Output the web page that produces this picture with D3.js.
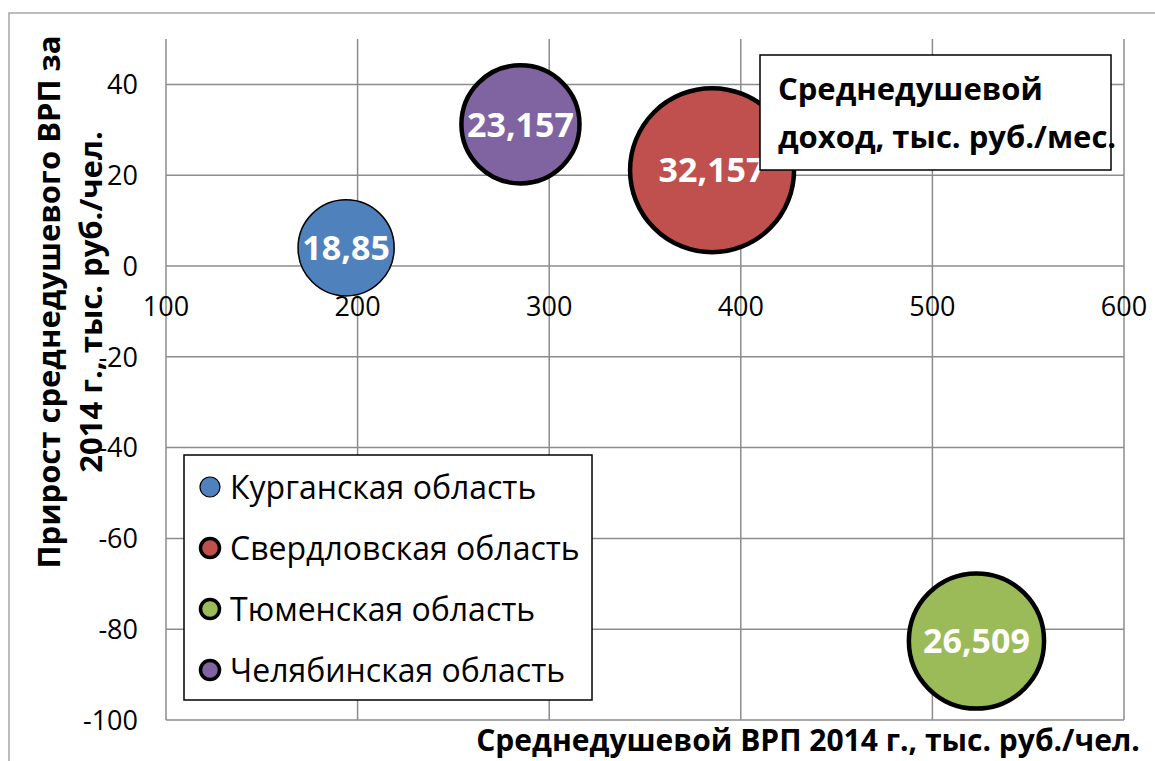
<!DOCTYPE html>
<html>
<head>
<meta charset="utf-8">
<script src="https://cdn.jsdelivr.net/npm/d3@7"></script>
<style>
  body { margin: 0; background: #fff; }
  text { font-family: "Open Sans", "Noto Sans", sans-serif; }
</style>
</head>
<body>
<div id="vis"></div>
<script>
// regions, ВРП per capita (x), growth (y), income (bubble size)
const regions = ["Курганская область", "Свердловская область", "Тюменская область", "Челябинская область"];
const grp = [194, 385, 523, 285];
const growth = [4.0, 21.1, -82.6, 31.2];
const income = [18.85, 32.157, 26.509, 23.157];
const incomeLabels = ["18,85", "32,157", "26,509", "23,157"];
const colors = ["#4F81BD", "#C0504D", "#9BBB59", "#8064A2"];

const xTicks = [100, 200, 300, 400, 500, 600];
const yTicks = [40, 20, 0, -20, -40, -60, -80, -100];

const width = 1155, height = 761;
const margin = {left: 166, right: 31, top: 39, bottom: 41};

const svg = d3.select('#vis').append('svg')
  .attr("width", width)
  .attr("height", height);

// outer chart border
svg.append("rect")
  .attr("x", 9).attr("y", 13)
  .attr("width", 1160).attr("height", 800)
  .attr("fill", "none")
  .attr("stroke", "#a6a6a6")
  .attr("stroke-width", 1.5);

const x = d3.scaleLinear().domain([100, 600]).range([margin.left, width - margin.right]);
const y = d3.scaleLinear().domain([-100, 50]).range([height - margin.bottom, margin.top]);
const r = d3.scaleLinear().domain([0, 32.157]).range([0, 82]);

const grid = svg.append("g").attr("stroke", "#8c8c8c").attr("stroke-width", 1.5);

grid.selectAll("line.v")
  .data(xTicks)
  .enter().append("line")
  .attr("x1", d => x(d)).attr("x2", d => x(d))
  .attr("y1", y(50)).attr("y2", y(-100));

grid.selectAll("line.h")
  .data(yTicks)
  .enter().append("line")
  .attr("x1", x(100)).attr("x2", x(600))
  .attr("y1", d => y(d)).attr("y2", d => y(d));

// tick labels
svg.selectAll("text.xt")
  .data(xTicks)
  .enter().append("text")
  .attr("x", d => x(d))
  .attr("y", y(0) + 50)
  .attr("text-anchor", "middle")
  .attr("font-size", 27)
  .attr("fill", "#000")
  .text(d => d);

svg.selectAll("text.yt")
  .data(yTicks)
  .enter().append("text")
  .attr("x", 138)
  .attr("y", d => y(d))
  .attr("dy", "0.36em")
  .attr("text-anchor", "end")
  .attr("font-size", 27)
  .attr("fill", "#000")
  .text(d => d);

// bubbles
const idx = d3.range(regions.length);
const bubbles = svg.selectAll("g.bubble")
  .data(idx)
  .enter().append("g");

bubbles.append("circle")
  .attr("cx", i => x(grp[i]))
  .attr("cy", i => y(growth[i]))
  .attr("r", i => r(income[i]))
  .attr("fill", i => colors[i])
  .attr("stroke", "#000")
  .attr("stroke-width", i => i === 0 ? 1.5 : 4.5);

bubbles.append("text")
  .attr("x", i => x(grp[i]))
  .attr("y", i => y(growth[i]))
  .attr("dy", "0.36em")
  .attr("text-anchor", "middle")
  .attr("font-size", 34)
  .attr("font-weight", "bold")
  .attr("fill", "#fff")
  .text(i => incomeLabels[i]);

// size title box
svg.append("rect")
  .attr("x", 760).attr("y", 55)
  .attr("width", 351).attr("height", 115)
  .attr("fill", "#fff")
  .attr("stroke", "#000")
  .attr("stroke-width", 1.5);

svg.append("text")
  .attr("x", 778).attr("y", 100)
  .attr("font-size", 31).attr("font-weight", "bold")
  .text("Среднедушевой");
svg.append("text")
  .attr("x", 778).attr("y", 148)
  .attr("font-size", 31).attr("font-weight", "bold")
  .text("доход, тыс. руб./мес.");

// legend
const legend = svg.append("g");
legend.append("rect")
  .attr("x", 184).attr("y", 455)
  .attr("width", 408).attr("height", 245)
  .attr("fill", "#fff")
  .attr("stroke", "#000")
  .attr("stroke-width", 1.5);

const rows = legend.selectAll("g.row")
  .data(idx)
  .enter().append("g")
  .attr("transform", i => `translate(0,${487 + i * 61})`);

rows.append("circle")
  .attr("cx", 210).attr("cy", 0)
  .attr("r", i => i === 0 ? 10 : 9.5)
  .attr("fill", i => colors[i])
  .attr("stroke", "#000")
  .attr("stroke-width", i => i === 0 ? 1.2 : 3.5);

rows.append("text")
  .attr("x", 230).attr("y", 0)
  .attr("dy", "0.36em")
  .attr("font-size", 32)
  .text(i => regions[i]);

// axis titles
svg.append("text")
  .attr("x", 808).attr("y", 751)
  .attr("text-anchor", "middle")
  .attr("font-size", 30).attr("font-weight", "bold")
  .text("Среднедушевой ВРП 2014 г., тыс. руб./чел.");

const yTitle = svg.append("g").attr("transform", "translate(0,302) rotate(-90)");
yTitle.append("text")
  .attr("x", 0).attr("y", 60)
  .attr("text-anchor", "middle")
  .attr("font-size", 31).attr("font-weight", "bold")
  .text("Прирост среднедушевого ВРП за");
yTitle.append("text")
  .attr("x", 0).attr("y", 102)
  .attr("text-anchor", "middle")
  .attr("font-size", 31).attr("font-weight", "bold")
  .text("2014 г., тыс. руб./чел.");
</script>
</body>
</html>
